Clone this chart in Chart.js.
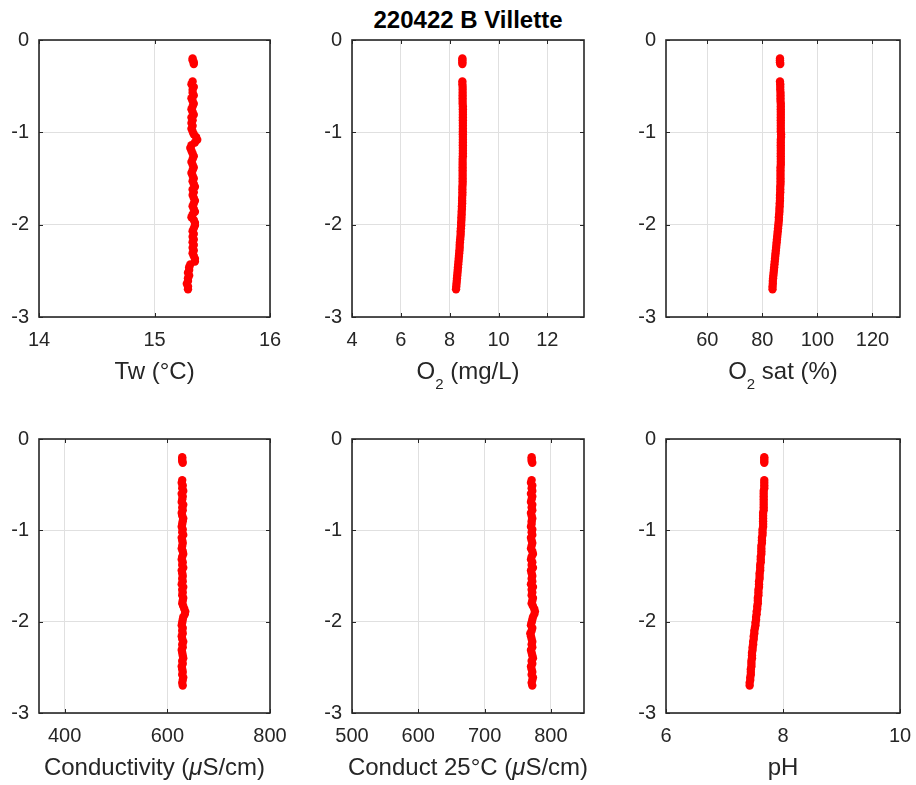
<!DOCTYPE html>
<html>
<head>
<meta charset="utf-8">
<title>220422 B Villette</title>
<script src="https://cdn.jsdelivr.net/npm/chart.js@4.4.1/dist/chart.umd.min.js"></script>
<style>
    html, body { margin: 0; padding: 0; background: #fff; overflow: hidden; }
    #page { position: relative; width: 916px; height: 785px; overflow: hidden; }
    canvas { position: absolute; }
    #main_title {
        position: absolute; left: 268px; width: 400px; top: 6px;
        text-align: center; font: bold 24px "Liberation Sans", Arial, sans-serif; color: #000;
    }
</style>
</head>
<body>
<div id="page">
    <div id="main_title">220422 B Villette</div>
</div>
<script>
// depth of every sample (m), shared by all six profiles
const depth = [
    -0.20, -0.22, -0.24, -0.26, -0.45, -0.48, -0.51, -0.54, -0.57, -0.60,
    -0.63, -0.66, -0.69, -0.72, -0.75, -0.78, -0.81, -0.84, -0.87, -0.90,
    -0.93, -0.96, -0.99, -1.02, -1.05, -1.08, -1.11, -1.14, -1.17, -1.20,
    -1.23, -1.26, -1.29, -1.32, -1.35, -1.38, -1.41, -1.44, -1.47, -1.50,
    -1.53, -1.56, -1.59, -1.62, -1.65, -1.68, -1.71, -1.74, -1.77, -1.80,
    -1.83, -1.86, -1.89, -1.92, -1.95, -1.98, -2.01, -2.04, -2.07, -2.10,
    -2.13, -2.16, -2.19, -2.22, -2.25, -2.28, -2.31, -2.34, -2.37, -2.40,
    -2.43, -2.46, -2.49, -2.52, -2.55, -2.58, -2.61, -2.64, -2.67, -2.70
];

// water temperature (°C)
const tw = [
    15.33, 15.33, 15.34, 15.34, 15.33, 15.32, 15.34, 15.33, 15.33, 15.34,
    15.32, 15.33, 15.34, 15.33, 15.32, 15.33, 15.34, 15.32, 15.33, 15.32,
    15.33, 15.32, 15.33, 15.34, 15.36, 15.37, 15.35, 15.32, 15.31, 15.32,
    15.33, 15.34, 15.33, 15.32, 15.33, 15.34, 15.33, 15.32, 15.33, 15.34,
    15.33, 15.34, 15.35, 15.33, 15.34, 15.33, 15.34, 15.35, 15.34, 15.33,
    15.34, 15.35, 15.33, 15.32, 15.34, 15.35, 15.35, 15.34, 15.33, 15.34,
    15.33, 15.34, 15.33, 15.34, 15.33, 15.34, 15.33, 15.34, 15.35, 15.35,
    15.31, 15.30, 15.30, 15.29, 15.30, 15.29, 15.29, 15.28, 15.29, 15.29
];

// dissolved oxygen (mg/L)
const o2 = [
    8.52, 8.52, 8.52, 8.52, 8.52, 8.52, 8.53, 8.53, 8.53, 8.53,
    8.53, 8.53, 8.53, 8.54, 8.54, 8.54, 8.54, 8.54, 8.54, 8.54,
    8.54, 8.54, 8.54, 8.54, 8.54, 8.54, 8.54, 8.54, 8.54, 8.54,
    8.54, 8.54, 8.53, 8.53, 8.53, 8.53, 8.53, 8.53, 8.53, 8.53,
    8.53, 8.53, 8.52, 8.52, 8.52, 8.52, 8.51, 8.51, 8.51, 8.50,
    8.50, 8.49, 8.49, 8.48, 8.48, 8.47, 8.47, 8.46, 8.45, 8.45,
    8.44, 8.43, 8.42, 8.41, 8.41, 8.40, 8.39, 8.38, 8.37, 8.36,
    8.35, 8.34, 8.33, 8.32, 8.31, 8.30, 8.29, 8.28, 8.27, 8.26
];

// oxygen saturation (%)
const o2sat = [
    86.4, 86.4, 86.4, 86.5, 86.4, 86.5, 86.5, 86.5, 86.6, 86.6,
    86.6, 86.6, 86.7, 86.7, 86.7, 86.7, 86.7, 86.7, 86.7, 86.7,
    86.7, 86.7, 86.7, 86.8, 86.8, 86.7, 86.7, 86.7, 86.7, 86.7,
    86.7, 86.7, 86.7, 86.7, 86.7, 86.6, 86.6, 86.6, 86.6, 86.6,
    86.6, 86.6, 86.5, 86.5, 86.5, 86.4, 86.4, 86.4, 86.3, 86.3,
    86.2, 86.2, 86.1, 86.0, 86.0, 85.9, 85.8, 85.7, 85.6, 85.5,
    85.4, 85.3, 85.2, 85.1, 85.0, 84.9, 84.8, 84.7, 84.6, 84.5,
    84.4, 84.3, 84.2, 84.1, 84.0, 83.9, 83.8, 83.8, 83.7, 83.7
];

// conductivity (µS/cm)
const cond = [
    629, 629, 629, 630, 629, 628, 630, 629, 631, 628,
    630, 629, 628, 631, 629, 630, 628, 629, 631, 630,
    629, 628, 630, 629, 631, 628, 629, 630, 629, 628,
    630, 631, 629, 628, 630, 629, 631, 628, 629, 630,
    629, 630, 628, 631, 629, 630, 629, 631, 630, 629,
    631, 633, 635, 634, 631, 630, 629, 628, 630, 629,
    630, 628, 629, 631, 629, 630, 628, 629, 630, 631,
    629, 630, 628, 629, 630, 629, 631, 630, 629, 630
];

// conductivity at 25°C (µS/cm)
const cond25 = [
    771, 771, 771, 772, 771, 770, 772, 771, 772, 770,
    772, 771, 770, 772, 771, 772, 770, 771, 772, 771,
    771, 770, 772, 771, 772, 770, 771, 772, 771, 770,
    772, 773, 771, 770, 772, 771, 773, 770, 771, 772,
    771, 772, 770, 773, 771, 772, 771, 773, 772, 771,
    773, 775, 776, 775, 773, 772, 771, 770, 772, 771,
    769, 770, 771, 772, 771, 772, 770, 771, 772, 773,
    771, 772, 770, 771, 772, 771, 773, 772, 771, 772
];

// pH
const ph = [
    7.68, 7.68, 7.68, 7.68, 7.68, 7.68, 7.68, 7.68, 7.67, 7.67,
    7.67, 7.67, 7.67, 7.67, 7.67, 7.67, 7.66, 7.66, 7.66, 7.66,
    7.66, 7.66, 7.65, 7.65, 7.65, 7.64, 7.64, 7.64, 7.63, 7.63,
    7.63, 7.63, 7.62, 7.62, 7.62, 7.61, 7.61, 7.61, 7.60, 7.60,
    7.60, 7.59, 7.59, 7.59, 7.58, 7.58, 7.58, 7.57, 7.57, 7.57,
    7.56, 7.56, 7.55, 7.55, 7.54, 7.54, 7.53, 7.53, 7.52, 7.51,
    7.51, 7.50, 7.50, 7.49, 7.49, 7.48, 7.48, 7.47, 7.47, 7.47,
    7.46, 7.46, 7.46, 7.45, 7.45, 7.45, 7.44, 7.44, 7.43, 7.43
];

// x axis limits and tick steps, one per panel
const series = [tw, o2, o2sat, cond, cond25, ph];
const x_min = [14, 4, 45, 350, 500, 6];
const x_max = [16, 13.5, 130, 800, 850, 10];
const x_step = [1, 2, 20, 200, 100, 2];

// y axis (depth) limits and ticks
const y_min = -3, y_max = 0, y_step = 1;

// x axis labels, split in pieces: [text, style] (style: sub = subscript, it = italic)
const x_labels = [
    [['Tw (°C)']],
    [['O'], ['2', 'sub'], [' (mg/L)']],
    [['O'], ['2', 'sub'], [' sat (%)']],
    [['Conductivity ('], ['μ', 'it'], ['S/cm)']],
    [['Conduct 25°C ('], ['μ', 'it'], ['S/cm)']],
    [['pH']]
];

// plot box of each panel on the page: left, right, top, bottom
const boxes = [
    [39, 270, 40, 317], [352, 584, 40, 317], [666, 900, 40, 317],
    [39, 270, 439, 713], [352, 584, 439, 713], [666, 900, 439, 713]
];

const axis_color = '#262626',
    grid_color = '#e0e0e0',
    font_family = '"Liberation Sans", Arial, sans-serif',
    y_axis_w = 39, pad_top = 20, pad_right = 22, x_axis_h = 82;

// draws the black box, the inward ticks and the x label of a panel
const framePlugin = {
    id: 'frame',
    afterDraw(chart) {
        const { ctx, chartArea: a, scales: { x, y } } = chart;
        const tick_len = 4;
        ctx.save();
        ctx.strokeStyle = axis_color;
        ctx.lineWidth = 1;
        ctx.beginPath();
        x.ticks.forEach(t => {
            const px = Math.round(x.getPixelForValue(t.value)) + 0.5;
            ctx.moveTo(px, a.bottom); ctx.lineTo(px, a.bottom - tick_len);
            ctx.moveTo(px, a.top); ctx.lineTo(px, a.top + tick_len);
        });
        y.ticks.forEach(t => {
            const py = Math.round(y.getPixelForValue(t.value)) + 0.5;
            ctx.moveTo(a.left, py); ctx.lineTo(a.left + tick_len, py);
            ctx.moveTo(a.right, py); ctx.lineTo(a.right - tick_len, py);
        });
        ctx.stroke();
        ctx.lineWidth = 1.6;
        ctx.strokeRect(a.left, a.top, a.right - a.left, a.bottom - a.top);

        // x label with subscript / italic pieces
        const parts = chart.options.plugins.frame.label;
        const fontOf = (style) => style === 'sub' ? `15px ${font_family}`
            : style === 'it' ? `italic 24px ${font_family}` : `24px ${font_family}`;
        let total = 0;
        parts.forEach(p => { ctx.font = fontOf(p[1]); total += ctx.measureText(p[0]).width; });
        let cx = (a.left + a.right) / 2 - total / 2;
        const base = a.bottom + 62;
        ctx.fillStyle = axis_color;
        ctx.textBaseline = 'alphabetic';
        ctx.textAlign = 'left';
        parts.forEach(p => {
            ctx.font = fontOf(p[1]);
            ctx.fillText(p[0], cx, p[1] === 'sub' ? base + 10 : base);
            cx += ctx.measureText(p[0]).width;
        });
        ctx.restore();
    }
};

// builds one panel: canvas placed so that its plot area lands on the box
function createPanel(i) {
    const [L, R, T, B] = boxes[i];
    const canvas = document.createElement('canvas');
    canvas.width = (R - L) + y_axis_w + pad_right;
    canvas.height = (B - T) + pad_top + x_axis_h;
    canvas.style.left = (L - y_axis_w) + 'px';
    canvas.style.top = (T - pad_top) + 'px';
    document.getElementById('page').appendChild(canvas);

    const points = depth.map((d, k) => ({ x: series[i][k], y: d }));

    return new Chart(canvas.getContext('2d'), {
        type: 'scatter',
        data: {
            datasets: [{
                data: points,
                backgroundColor: '#ff0000',
                borderWidth: 0,
                pointRadius: 4.2,
                pointHoverRadius: 4.2
            }]
        },
        options: {
            responsive: false,
            animation: false,
            devicePixelRatio: 1,
            layout: { padding: { top: pad_top, right: pad_right, left: 0, bottom: 0 } },
            plugins: {
                legend: { display: false },
                tooltip: { enabled: false },
                frame: { label: x_labels[i] }
            },
            scales: {
                x: {
                    type: 'linear',
                    min: x_min[i],
                    max: x_max[i],
                    border: { display: false },
                    grid: { color: grid_color, lineWidth: 1, drawTicks: false },
                    ticks: {
                        stepSize: x_step[i],
                        includeBounds: false,
                        maxRotation: 0,
                        autoSkip: false,
                        padding: 11,
                        color: axis_color,
                        font: { family: font_family, size: 20 }
                    },
                    // fixed height, and no extra room for the end labels
                    afterFit: (scale) => {
                        scale.height = x_axis_h;
                        scale.paddingLeft = 0;
                        scale.paddingRight = 0;
                    }
                },
                y: {
                    type: 'linear',
                    min: y_min,
                    max: y_max,
                    border: { display: false },
                    grid: { color: grid_color, lineWidth: 1, drawTicks: false },
                    ticks: {
                        stepSize: y_step,
                        padding: 10,
                        color: axis_color,
                        font: { family: font_family, size: 20 }
                    },
                    afterFit: (scale) => {
                        scale.width = y_axis_w;
                        scale.paddingTop = 0;
                        scale.paddingBottom = 0;
                    }
                }
            }
        },
        plugins: [framePlugin]
    });
}

// draw the six profiles
for (let i = 0; i < boxes.length; i++) {
    createPanel(i);
}
</script>
</body>
</html>
